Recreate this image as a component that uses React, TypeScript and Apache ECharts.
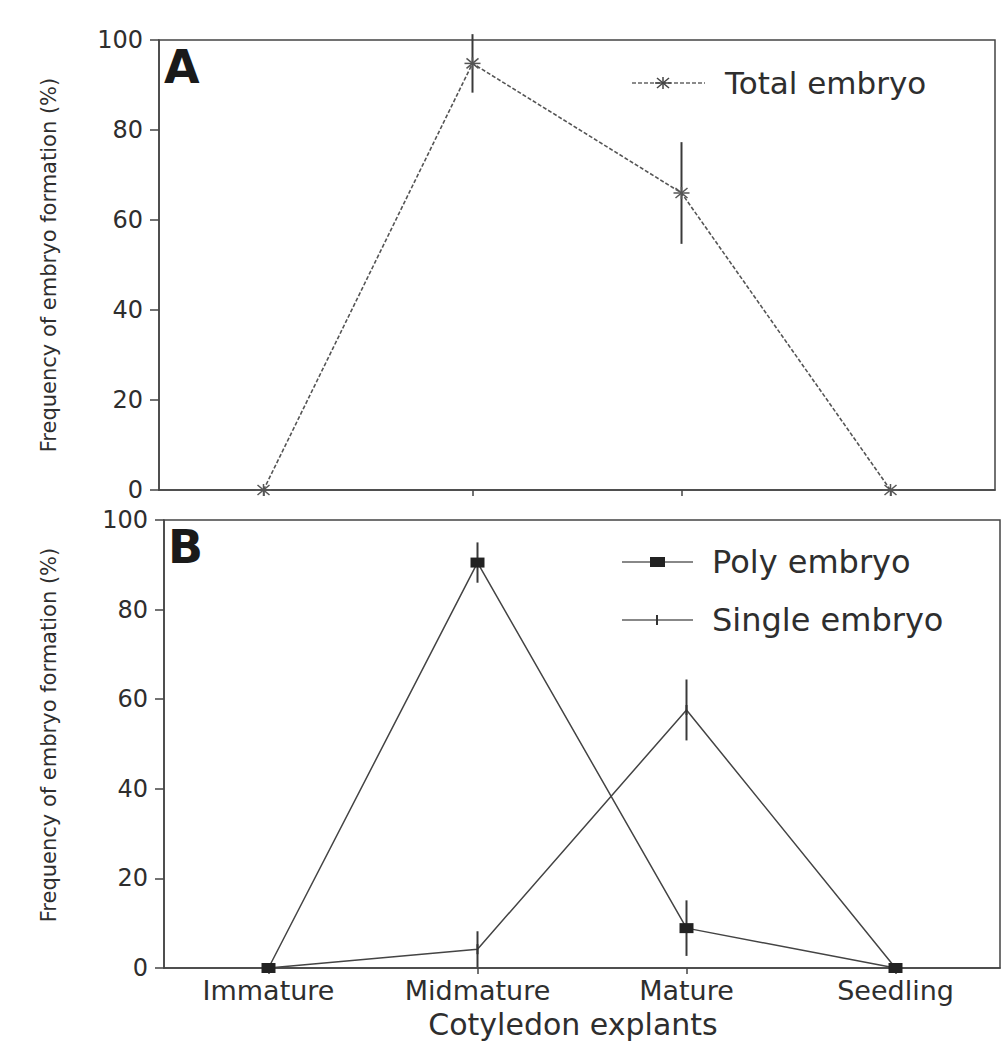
import React, { useEffect, useRef } from "react";
import * as echarts from "echarts";

const categories = ["Immature", "Midmature", "Mature", "Seedling"];
const totalEmbryo = [0, 94.8, 66, 0];
const totalErr = [0, 6.5, 11.3, 0];
const polyEmbryo = [0, 90.5, 8.9, 0];
const polyErr = [0, 4.5, 6.2, 0];
const singleEmbryo = [0, 4.2, 57.6, 0];
const singleErr = [0, 4, 6.8, 0];

const FONT = "DejaVu Sans";
const TXT = "#2e2e2e";
const LINE = "#444";

function makeRender(kind: string) {
  return (params: any, api: any) => {
    const i = api.value(0);
    const v = api.value(1);
    const e = api.value(2);
    const [cx, cy] = api.coord([i, v]);
    const children: any[] = [];
    if (e > 0) {
      const top = api.coord([i, v + e]);
      const bot = api.coord([i, v - e]);
      children.push({
        type: "line",
        shape: { x1: cx, y1: top[1], x2: cx, y2: bot[1] },
        style: { stroke: "#3a3a3a", lineWidth: 2 },
      });
    }
    if (kind === "total") {
      const st = { stroke: "#555", lineWidth: 1.5 };
      children.push({ type: "line", shape: { x1: cx - 8, y1: cy, x2: cx + 8, y2: cy }, style: st });
      children.push({ type: "line", shape: { x1: cx - 6, y1: cy - 5, x2: cx + 6, y2: cy + 5 }, style: st });
      children.push({ type: "line", shape: { x1: cx - 6, y1: cy + 5, x2: cx + 6, y2: cy - 5 }, style: st });
      children.push({ type: "line", shape: { x1: cx, y1: cy - 6, x2: cx, y2: cy + 6 }, style: st });
    } else if (kind === "poly") {
      children.push({
        type: "rect",
        shape: { x: cx - 7, y: cy - 5, width: 14, height: 10 },
        style: { fill: "#222" },
      });
    } else {
      children.push({
        type: "line",
        shape: { x1: cx, y1: cy - 5, x2: cx, y2: cy + 5 },
        style: { stroke: "#333", lineWidth: 2 },
      });
    }
    return { type: "group", children };
  };
}

export default function App() {
  const ref = useRef<HTMLDivElement>(null);
  useEffect(() => {
    if (!ref.current) return;
    const chart = echarts.init(ref.current, null, { renderer: "svg" });
    const yAxisBase = (gridIndex: number) => ({
      type: "value",
      gridIndex,
      min: 0,
      max: 100,
      interval: 20,
      axisLine: { show: true, lineStyle: { color: LINE, width: 1.5 } },
      axisTick: { show: true, length: 9, lineStyle: { color: LINE, width: 1.5 } },
      axisLabel: { fontFamily: FONT, fontSize: 24, color: TXT, margin: 16 },
      splitLine: { show: false },
    });
    const xAxisBase = (gridIndex: number, showLabel: boolean) => ({
      type: "category",
      gridIndex,
      data: categories,
      boundaryGap: true,
      axisLine: { show: true, lineStyle: { color: LINE, width: 1.5 } },
      axisTick: { show: true, alignWithLabel: true, length: 6, lineStyle: { color: LINE, width: 1.5 } },
      axisLabel: { show: showLabel, fontFamily: FONT, fontSize: 27, color: TXT, margin: 9 },
      splitLine: { show: false },
    });
    const errData = (vals: number[], errs: number[]) =>
      categories.map((_, i) => [i, vals[i], errs[i]]);

    const yTitle = "Frequency of embryo formation (%)";
    const option: any = {
      animation: false,
      backgroundColor: "#fff",
      grid: [
        { left: 159, top: 40, width: 836, height: 450, show: true, borderColor: LINE, borderWidth: 1.5 },
        { left: 164, top: 520, width: 836, height: 448, show: true, borderColor: LINE, borderWidth: 1.5 },
      ],
      xAxis: [xAxisBase(0, false), xAxisBase(1, true)],
      yAxis: [yAxisBase(0), yAxisBase(1)],
      series: [
        {
          name: "Total embryo",
          type: "line",
          xAxisIndex: 0,
          yAxisIndex: 0,
          data: totalEmbryo,
          symbol: "none",
          lineStyle: { color: "#555", width: 1.6, type: [4, 2] },
        },
        {
          name: "Total embryo markers",
          type: "custom",
          xAxisIndex: 0,
          yAxisIndex: 0,
          data: errData(totalEmbryo, totalErr),
          encode: { x: 0, y: 1 },
          renderItem: makeRender("total"),
          z: 5,
        },
        {
          name: "Single embryo",
          type: "line",
          xAxisIndex: 1,
          yAxisIndex: 1,
          data: singleEmbryo,
          symbol: "none",
          lineStyle: { color: LINE, width: 1.5 },
        },
        {
          name: "Poly embryo",
          type: "line",
          xAxisIndex: 1,
          yAxisIndex: 1,
          data: polyEmbryo,
          symbol: "none",
          lineStyle: { color: LINE, width: 1.5 },
        },
        {
          name: "Single embryo markers",
          type: "custom",
          xAxisIndex: 1,
          yAxisIndex: 1,
          data: errData(singleEmbryo, singleErr),
          encode: { x: 0, y: 1 },
          renderItem: makeRender("single"),
          z: 5,
        },
        {
          name: "Poly embryo markers",
          type: "custom",
          xAxisIndex: 1,
          yAxisIndex: 1,
          data: errData(polyEmbryo, polyErr),
          encode: { x: 0, y: 1 },
          renderItem: makeRender("poly"),
          z: 6,
        },
      ],
      graphic: [
        // panel letters
        { type: "text", left: 164, top: 44, style: { text: "A", font: `bold 46px ${FONT}`, fill: "#1a1a1a" } },
        { type: "text", left: 168, top: 524, style: { text: "B", font: `bold 46px ${FONT}`, fill: "#1a1a1a" } },
        // y titles
        {
          type: "text",
          x: 49,
          y: 265,
          rotation: Math.PI / 2,
          style: { text: yTitle, font: `21px ${FONT}`, fill: TXT, align: "center", verticalAlign: "middle" },
        },
        {
          type: "text",
          x: 49,
          y: 735,
          rotation: Math.PI / 2,
          style: { text: yTitle, font: `21px ${FONT}`, fill: TXT, align: "center", verticalAlign: "middle" },
        },
        // x title
        {
          type: "text",
          x: 573,
          y: 1024,
          style: { text: "Cotyledon explants", font: `30px ${FONT}`, fill: TXT, align: "center", verticalAlign: "middle" },
        },
        // legend A
        { type: "line", shape: { x1: 632, y1: 83, x2: 705, y2: 83 }, style: { stroke: "#666", lineWidth: 1.5, lineDash: [4, 2] } },
        { type: "line", shape: { x1: 655, y1: 83, x2: 671, y2: 83 }, style: { stroke: "#444", lineWidth: 1.5 } },
        { type: "line", shape: { x1: 657, y1: 78, x2: 669, y2: 88 }, style: { stroke: "#444", lineWidth: 1.5 } },
        { type: "line", shape: { x1: 657, y1: 88, x2: 669, y2: 78 }, style: { stroke: "#444", lineWidth: 1.5 } },
        { type: "line", shape: { x1: 663, y1: 77, x2: 663, y2: 89 }, style: { stroke: "#444", lineWidth: 1.5 } },
        {
          type: "text",
          x: 725,
          y: 83,
          style: { text: "Total embryo", font: `31px ${FONT}`, fill: TXT, align: "left", verticalAlign: "middle" },
        },
        // legend B
        { type: "line", shape: { x1: 622, y1: 562, x2: 693, y2: 562 }, style: { stroke: "#888", lineWidth: 2 } },
        { type: "rect", shape: { x: 650, y: 557, width: 15, height: 10 }, style: { fill: "#222" } },
        {
          type: "text",
          x: 712,
          y: 562,
          style: { text: "Poly embryo", font: `32px ${FONT}`, fill: TXT, align: "left", verticalAlign: "middle" },
        },
        { type: "line", shape: { x1: 622, y1: 620, x2: 693, y2: 620 }, style: { stroke: "#888", lineWidth: 2 } },
        { type: "line", shape: { x1: 657, y1: 615, x2: 657, y2: 625 }, style: { stroke: "#333", lineWidth: 2 } },
        {
          type: "text",
          x: 712,
          y: 620,
          style: { text: "Single embryo", font: `32px ${FONT}`, fill: TXT, align: "left", verticalAlign: "middle" },
        },
      ],
    };
    chart.setOption(option);
    return () => chart.dispose();
  }, []);
  return (
    <div
      ref={ref}
      style={{ position: "fixed", left: 0, top: 0, width: 1005, height: 1045, background: "#fff" }}
    />
  );
}
